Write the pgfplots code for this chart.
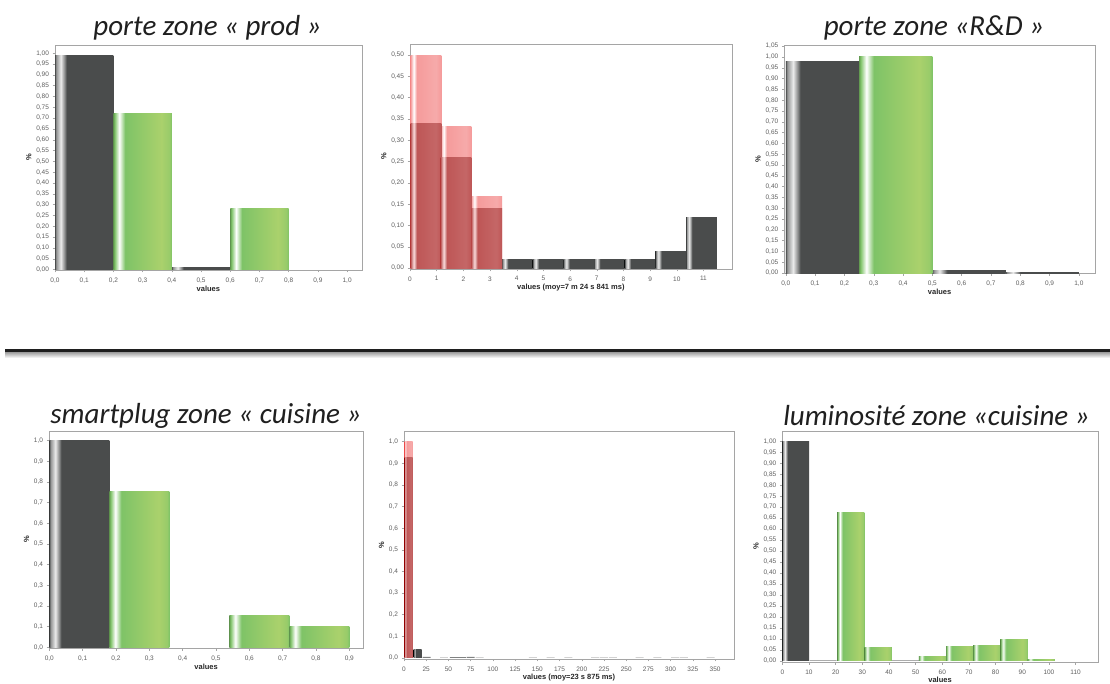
\documentclass[border=0pt]{standalone}
\usepackage{fontspec}
\setmainfont{Liberation Sans}
\newfontfamily\titlefont{Carlito}
\usepackage{pgfplots}
\pgfplotsset{compat=1.18}
\definecolor{dk}{RGB}{74,76,76}
\definecolor{dkhi}{RGB}{235,235,235}
\definecolor{gA}{RGB}{126,195,103}
\definecolor{gB}{RGB}{170,209,108}
\definecolor{rA}{RGB}{245,155,155}
\definecolor{oA}{RGB}{190,86,86}
\definecolor{axgray}{RGB}{165,165,165}
\definecolor{lblgray}{RGB}{95,95,95}
\pgfdeclarehorizontalshading{darkbar}{100bp}{color(0bp)=(dk); color(25bp)=(dk); color(26bp)=(dk!60!white); color(30bp)=(dkhi); color(33.5bp)=(dk!70!white); color(35bp)=(dk); color(100bp)=(dk)}
\pgfdeclarehorizontalshading{greenbar}{100bp}{color(0bp)=(gA); color(25bp)=(gA!80!black); color(26bp)=(gA); color(30bp)=(white); color(35bp)=(gA); color(66bp)=(gB); color(73bp)=(gB!60!gA); color(75bp)=(gA); color(100bp)=(gA)}
\pgfdeclarehorizontalshading{redbar}{100bp}{color(0bp)=(rA); color(25bp)=(rA); color(28bp)=(rA!40!white); color(30bp)=(white); color(32bp)=(rA!40!white); color(35bp)=(rA); color(66bp)=(rA!85!white); color(75bp)=(rA); color(100bp)=(rA)}
\pgfdeclarehorizontalshading{ovbar}{100bp}{color(0bp)=(oA); color(25bp)=(oA); color(28bp)=(oA!50!white); color(30bp)=(rA!40!white); color(32bp)=(oA!50!white); color(35bp)=(oA); color(66bp)=(oA!90!white); color(75bp)=(oA); color(100bp)=(oA)}
\pgfplotsset{
  hist/.style={
    scale only axis, anchor=south west, clip=true,
    axis line style={draw=axgray},
    every tick/.style={draw=axgray},
    tick align=outside, major tick length=2.5pt,
    xtick pos=left, ytick pos=left,
    ticklabel style={font=\fontsize{6.5}{7}\selectfont, text=lblgray},
    xticklabel style={yshift=-1.5pt},
    xlabel={values}, ylabel={\%},
    label style={font=\fontsize{7.5}{8}\selectfont\bfseries, text=black!85},
    xlabel style={yshift=4pt},
    ylabel style={yshift=-2pt},
    /pgf/number format/assume math mode=true,
  },
  yfmt2/.style={yticklabel style={/pgf/number format/.cd,fixed,fixed zerofill,precision=2,use comma}},
  yfmt1/.style={yticklabel style={/pgf/number format/.cd,fixed,fixed zerofill,precision=1,use comma}},
  xfmt1/.style={xticklabel style={/pgf/number format/.cd,fixed,fixed zerofill,precision=1,use comma}},
  dkbar/.style={ybar, bar shift=0pt, draw=none, fill=dk, shade, shading=darkbar},
  flbar/.style={ybar, bar shift=0pt, draw=none, fill=dk!70!white},
  grbar/.style={ybar, bar shift=0pt, draw=none, fill=gA, shade, shading=greenbar},
  rdbar/.style={ybar, bar shift=0pt, draw=none, fill=rA, shade, shading=redbar},
  ovbar/.style={ybar, bar shift=0pt, draw=none, fill=oA, shade, shading=ovbar},
}
% one bar: width, centre, height
\newcommand{\DB}[3]{\addplot[dkbar, bar width=#1] coordinates {(#2,#3)};}
\newcommand{\GB}[3]{\addplot[grbar, bar width=#1] coordinates {(#2,#3)};}
\newcommand{\RB}[3]{\addplot[rdbar, bar width=#1] coordinates {(#2,#3)};}
\newcommand{\OB}[3]{\addplot[ovbar, bar width=#1] coordinates {(#2,#3)};}
\begin{document}
\begin{tikzpicture}
\useasboundingbox[fill=white] (0pt,0pt) rectangle (1110pt,684pt);

% titles
\tikzset{ttl/.style={font=\titlefont\itshape\fontsize{29}{29}\selectfont, text=black!88}}
\node[ttl] at (207.5pt,656pt) {porte zone « prod »};
\node[ttl] at (934pt,656pt) {porte zone «R\&D »};
\node[ttl] at (206pt,268pt) {smartplug zone « cuisine »};
\node[ttl] at (936.5pt,268pt) {luminosité zone «cuisine »};

% separator
\fill[black!88] (5pt,331pt) rectangle (1110pt,335pt);
\shade[top color=gray!65, bottom color=white] (5pt,326pt) rectangle (1110pt,331pt);

% Panel 1
\begin{axis}[hist, yfmt2, xfmt1, at={(55pt,414pt)}, width=306.7pt, height=225pt,
  xmin=0, xmax=1.05, ymin=-0.002, ymax=1.038, xtick distance=0.1, ytick distance=0.05]
\DB{0.2}{0.1}{0.988}
\DB{0.2}{0.5}{0.008}
\GB{0.2}{0.3}{0.72}
\GB{0.2}{0.7}{0.28}
\end{axis}

% Panel 2
\begin{axis}[hist, yfmt2, at={(410pt,415pt)}, width=321.7pt, height=225pt,
  xmin=0, xmax=12.06, ymin=-0.002, ymax=0.526, xtick={0,1,...,11}, ytick distance=0.05,
  xlabel={values (moy=7 m 24 s 841 ms)}]
\DB{1.15}{4.025}{0.02}
\DB{1.15}{5.175}{0.02}
\DB{1.15}{6.325}{0.02}
\DB{1.15}{7.475}{0.02}
\DB{1.15}{8.625}{0.02}
\DB{1.15}{9.775}{0.04}
\DB{1.15}{10.925}{0.12}
\RB{1.15}{0.6}{0.5}
\RB{1.15}{1.725}{0.333}
\RB{1.15}{2.875}{0.167}
\OB{1.15}{0.6}{0.34}
\OB{1.15}{1.725}{0.26}
\OB{1.15}{2.875}{0.14}
\end{axis}

% Panel 3
\begin{axis}[hist, yfmt2, xfmt1, at={(784.3pt,410.7pt)}, width=310.7pt, height=227.6pt,
  xmin=-0.005, xmax=1.055, ymin=-0.001, ymax=1.052, xtick distance=0.1, ytick distance=0.05]
\DB{0.25}{0.125}{0.977}
\DB{0.25}{0.625}{0.012}
\DB{0.25}{0.875}{0.003}
\GB{0.25}{0.375}{1.0}
\end{axis}

% Panel 4
\begin{axis}[hist, yfmt1, xfmt1, at={(49pt,35.7pt)}, width=314.3pt, height=217.3pt,
  xmin=-0.001, xmax=0.942, ymin=-0.005, ymax=1.046, xtick distance=0.1, ytick distance=0.1]
\DB{0.18}{0.09}{1.0}
\GB{0.18}{0.27}{0.752}
\GB{0.18}{0.63}{0.153}
\GB{0.18}{0.81}{0.102}
\end{axis}

% Panel 5
\begin{axis}[hist, yfmt1, at={(404pt,25pt)}, width=330pt, height=227.3pt,
  xmin=0, xmax=371.3, ymin=-0.005, ymax=1.046, xtick distance=25, ytick distance=0.1,
  xlabel={values (moy=23 s 875 ms)}]
\addplot[flbar, bar width=9] coordinates {(25.5,0.005) (45,0.0015) (56,0.004) (65,0.004) (75,0.005) (85,0.0015) (145,0.0015) (165,0.0015) (185,0.0015) (215,0.0015) (225,0.0015) (235,0.0015) (265,0.0015) (285,0.0015) (305,0.0015) (315,0.0015) (345,0.0015)};
\DB{9}{15.4}{0.037}
\RB{9}{5.25}{1.0}
\OB{9}{5.25}{0.926}
\end{axis}

% Panel 6
\begin{axis}[hist, yfmt2, at={(782.3pt,21.7pt)}, width=315.4pt, height=231.3pt,
  xmin=0, xmax=118.3, ymin=-0.007, ymax=1.047, xtick distance=10, ytick distance=0.05]
\addplot[flbar, bar width=10.2] coordinates {(15.3,0.002) (46.1,0.002)};
\DB{10.1}{5.05}{1.0}
\GB{10.2}{25.7}{0.676}
\GB{10.2}{35.9}{0.062}
\GB{10.2}{56.3}{0.02}
\GB{10.2}{66.5}{0.067}
\GB{10.2}{76.7}{0.07}
\GB{10.2}{86.9}{0.097}
\GB{10.2}{97.1}{0.005}
\end{axis}
\end{tikzpicture}
\end{document}
